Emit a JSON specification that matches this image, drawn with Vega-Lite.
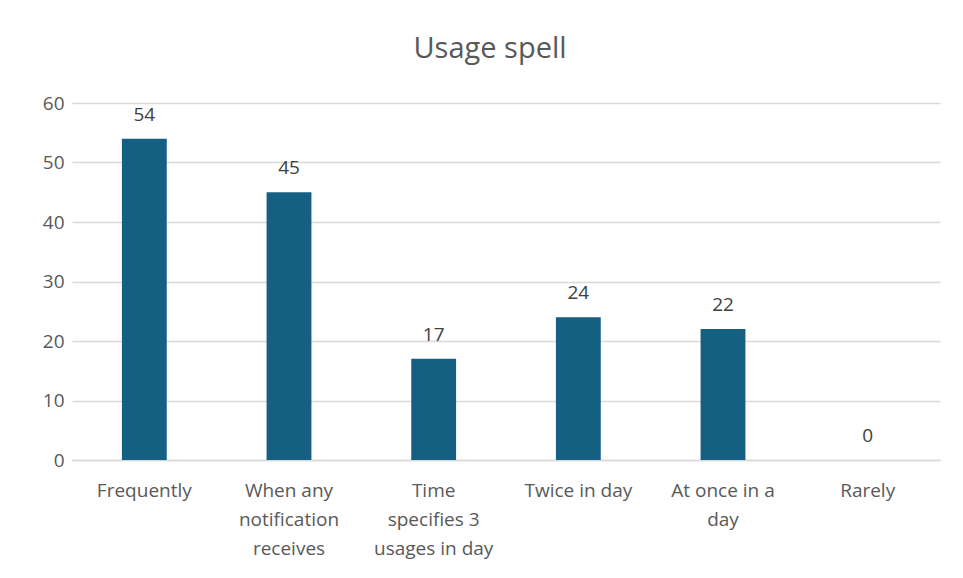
{
  "$schema": "https://vega.github.io/schema/vega-lite/v6.json",
  "autosize": "none",
  "width": 868,
  "height": 357,
  "padding": {"left": 72, "top": 103, "right": 23, "bottom": 118},
  "background": "white",
  "title": {
    "text": "Usage spell",
    "fontSize": 29,
    "font": "Open Sans",
    "fontWeight": "normal",
    "color": "#595959",
    "anchor": "middle",
    "dx": -16,
    "offset": 30
  },
  "data": {
    "values": [
      {"category": "Frequently", "value": 54},
      {"category": "When any notification receives", "value": 45},
      {"category": "Time specifies 3 usages in day", "value": 17},
      {"category": "Twice in day", "value": 24},
      {"category": "At once in a day", "value": 22},
      {"category": "Rarely", "value": 0}
    ]
  },
  "config": {
    "view": {"stroke": null},
    "font": "Open Sans"
  },
  "encoding": {
    "x": {
      "field": "category",
      "type": "nominal",
      "sort": null,
      "title": null,
      "scale": {"paddingInner": 0.69, "paddingOuter": 0.345},
      "axis": {
        "labelAngle": 0,
        "labelFontSize": 19,
        "labelColor": "#595959",
        "labelPadding": 21,
        "labelLineHeight": 29,
        "ticks": false,
        "domainColor": "#d9d9d9",
        "domainWidth": 1.5,
        "labelExpr": "datum.label == 'When any notification receives' ? ['When any', 'notification', 'receives'] : datum.label == 'Time specifies 3 usages in day' ? ['Time', 'specifies 3', 'usages in day'] : datum.label == 'At once in a day' ? ['At once in a', 'day'] : datum.label"
      }
    },
    "y": {
      "field": "value",
      "type": "quantitative",
      "title": null,
      "scale": {"domain": [0, 60]},
      "axis": {
        "values": [0, 10, 20, 30, 40, 50, 60],
        "labelOverlap": false,
        "labelFontSize": 19,
        "labelColor": "#595959",
        "labelPadding": 8,
        "ticks": false,
        "domain": false,
        "gridColor": "#d9d9d9",
        "gridWidth": 1.5
      }
    }
  },
  "layer": [
    {"mark": {"type": "bar", "color": "#156082"}},
    {
      "mark": {"type": "text", "baseline": "bottom", "dy": -14, "fontSize": 19, "color": "#404040"},
      "encoding": {"text": {"field": "value", "type": "quantitative"}}
    }
  ]
}
